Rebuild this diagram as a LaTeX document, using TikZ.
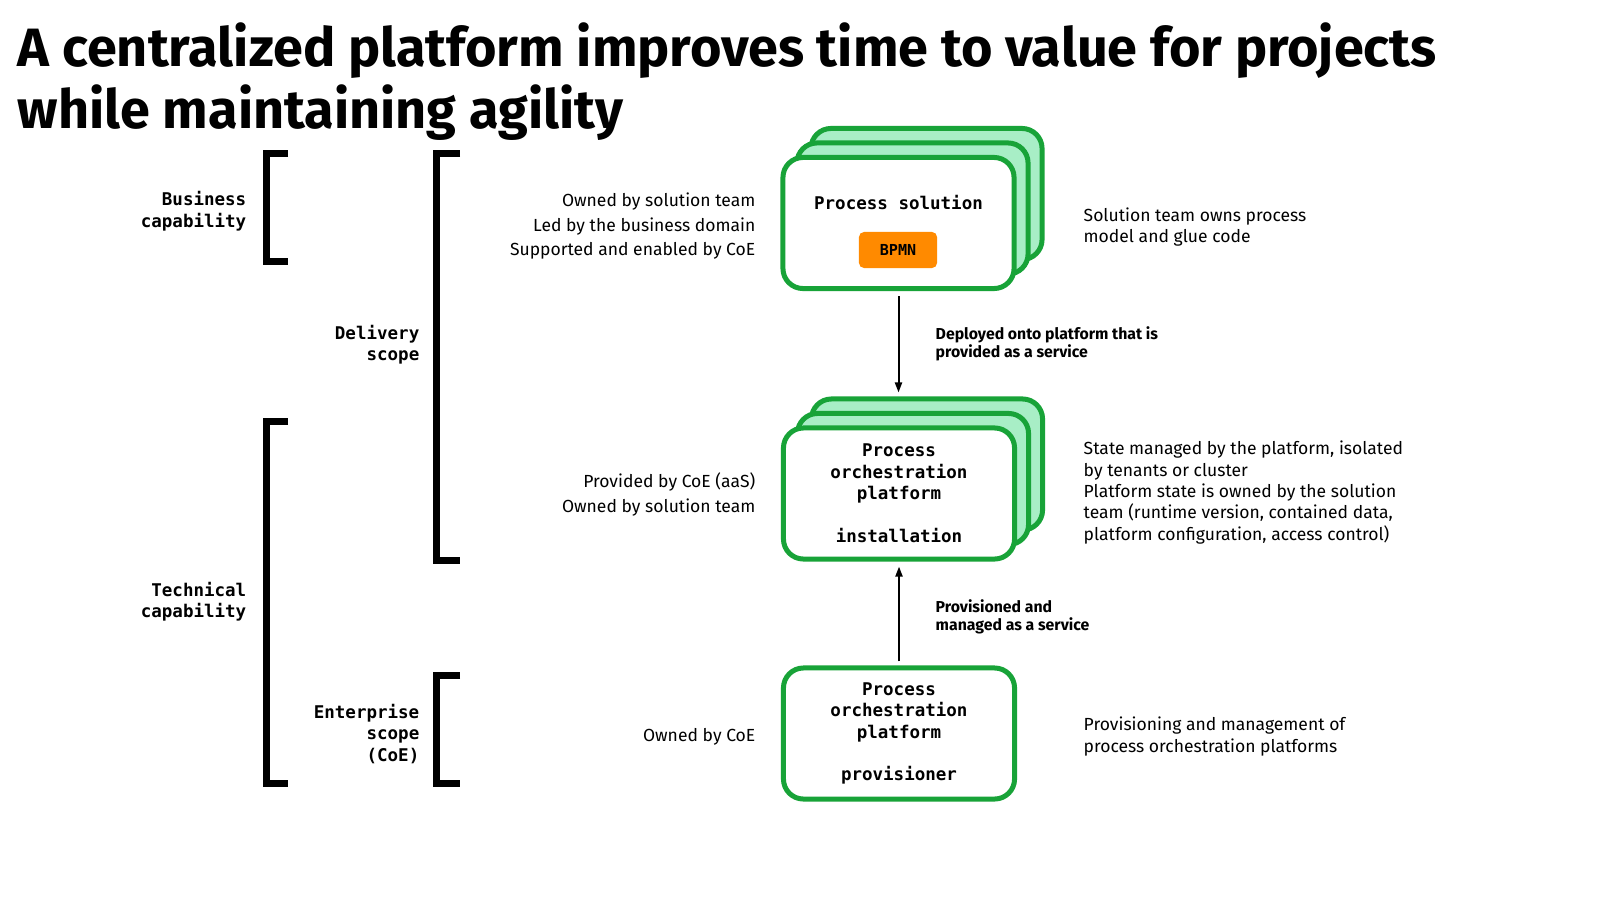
\documentclass[tikz,border=0pt]{standalone}
\usepackage{fontspec}
\setmainfont{Fira Sans}
\newfontfamily\plexmono{DejaVu Sans Mono}
\usetikzlibrary{arrows.meta}
\definecolor{boxgreen}{RGB}{24,163,56}
\definecolor{layergreen}{RGB}{168,238,198}
\definecolor{bpmnorange}{RGB}{255,138,0}
\begin{document}
\begin{tikzpicture}[
	x=0.01cm,y=-0.01cm,
	title/.style={anchor=base west,inner sep=0,font=\bfseries\fontsize{15.35pt}{17.4pt}\selectfont},
	capl/.style={anchor=east,align=right,inner sep=0,font=\plexmono\bfseries\fontsize{4.98pt}{6.1pt}\selectfont},
	brk/.style={line width=0.07cm},
	box/.style={draw=boxgreen,line width=0.05cm,rounded corners=0.2cm,fill=white,minimum width=2.31cm,minimum height=1.31cm,align=center,font=\plexmono\bfseries\fontsize{4.98pt}{6.1pt}\selectfont},
	layer/.style={box,fill=layergreen},
	boxtxt/.style={inner sep=0,font=\plexmono\bfseries\fontsize{4.98pt}{6.1pt}\selectfont},
	tag/.style={fill=bpmnorange,rounded corners=0.05cm,minimum width=0.78cm,minimum height=0.36cm,inner sep=0,font=\plexmono\bfseries\fontsize{4.3pt}{5pt}\selectfont},
	notel/.style={anchor=east,align=right,inner sep=0,font=\fontsize{4.98pt}{6.97pt}\selectfont},
	noter/.style={anchor=west,align=left,inner sep=0,font=\fontsize{4.98pt}{6.1pt}\selectfont},
	arrlbl/.style={anchor=west,align=left,inner sep=0,font=\bfseries\fontsize{4.5pt}{5.1pt}\selectfont},
	arr/.style={line width=0.02cm,-{Triangle[length=0.1cm,width=0.07cm]}},
	]
\useasboundingbox (0,0) rectangle (1600,900);
\node[title] (t1) at (17,67) {A centralized platform improves time to value for projects};
\node[title] (t2) at (17,128) {while maintaining agility};
\draw[brk] (288,153.5) -- (266.5,153.5) -- (266.5,261.5) -- (288,261.5);
\draw[brk] (460,153.5) -- (436.5,153.5) -- (436.5,560) -- (460,560);
\draw[brk] (288,421.5) -- (266.5,421.5) -- (266.5,783.5) -- (288,783.5);
\draw[brk] (460,675) -- (436.5,675) -- (436.5,783.5) -- (460,783.5);
\node[capl] (bizcap) at (247,211) {Business\\capability};
\node[capl] (delscope) at (420,344.5) {Delivery\\scope};
\node[capl] (techcap) at (247,601.5) {Technical\\capability};
\node[capl] (entscope) at (420,734) {Enterprise\\scope\\(CoE)};
\node[layer] (sol3) at (926.5,194) {};
\node[layer] (sol2) at (912.5,208.5) {};
\node[box] (sol) at (898.5,223) {};
\node[boxtxt] (soltxt) at (898.5,203) {Process solution};
\node[tag] (bpmn) at (898,250) {BPMN};
\node[layer] (inst3) at (927,464.5) {};
\node[layer] (inst2) at (913,479) {};
\node[box] (inst) at (899,493.5) {Process\\orchestration\\platform\\[6.1pt]installation};
\node[box] (prov) at (899,733.5) {Process\\orchestration\\platform\\[6.1pt]provisioner};
\draw[arr,shorten <=0.05cm,shorten >=0.04cm] (sol.south) -- (sol.south |- inst3.north);
\draw[arr,shorten <=0.04cm,shorten >=0.05cm] (prov.north) -- (inst.south);
\node[arrlbl] (deplbl) at (935,344) {Deployed onto platform that is\\provided as a service};
\node[arrlbl] (provlbl) at (935,617) {Provisioned and\\managed as a service};
\node[notel] (solnote) at (756,226.5) {Owned by solution team\\Led by the business domain\\Supported and enabled by CoE};
\node[notel] (instnote) at (756,494.5) {Provided by CoE (aaS)\\Owned by solution team};
\node[notel] (provnote) at (756,737) {Owned by CoE};
\node[noter] (soldesc) at (1083,227) {Solution team owns process\\model and glue code};
\node[noter] (instdesc) at (1083,492.5) {State managed by the platform, isolated\\by tenants or cluster\\Platform state is owned by the solution\\team (runtime version, contained data,\\platform configuration, access control)};
\node[noter] (provdesc) at (1083,736.5) {Provisioning and management of\\process orchestration platforms};
\end{tikzpicture}
\end{document}
